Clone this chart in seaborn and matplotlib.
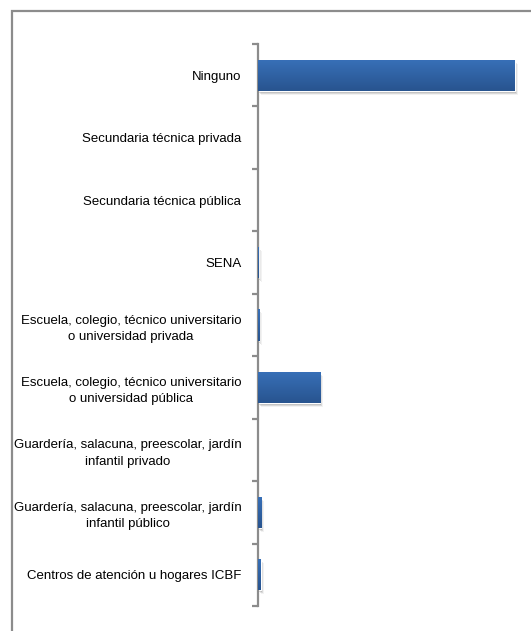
import matplotlib.pyplot as plt
import seaborn as sns
import numpy as np
import pandas as pd
from matplotlib.patches import Rectangle
from matplotlib.colors import LinearSegmentedColormap
import matplotlib.transforms as mtransforms

plt.switch_backend('Agg')

categorias = [
    "Ninguno",
    "Secundaria técnica privada",
    "Secundaria técnica pública",
    "SENA",
    "Escuela, colegio, técnico universitario\no universidad privada",
    "Escuela, colegio, técnico universitario\no universidad pública",
    "Guardería, salacuna, preescolar, jardín\ninfantil privado",
    "Guardería, salacuna, preescolar, jardín\ninfantil público",
    "Centros de atención u hogares ICBF",
]
valores = [78.5, 0.0, 0.0, 0.3, 0.4, 19.0, 0.0, 1.0, 0.8]

df = pd.DataFrame({"categoria": categorias, "valor": valores})

sns.set_style("white")
plt.rcParams['font.family'] = ['Liberation Sans', 'DejaVu Sans']

fig = plt.figure(figsize=(5.31, 6.31), dpi=100)
ax = fig.add_axes([258 / 531, 1 - 606 / 631, 269 / 531, 562 / 631])

sns.barplot(data=df, y="categoria", x="valor", orient="h", color="#2f63a8",
            width=0.5, ax=ax, saturation=1)

# degradado y sombra en las barras
cmap = LinearSegmentedColormap.from_list("azul", ["#3870b8", "#28548f"])
grad = np.linspace(0, 1, 64).reshape(-1, 1)
for p in list(ax.patches):
    x0, y0, w, h = p.get_x(), p.get_y(), p.get_width(), p.get_height()
    if w <= 0:
        continue
    for i, a in enumerate([0.16, 0.10, 0.05]):
        s = Rectangle((x0, y0), w, h, transform=mtransforms.offset_copy(
            ax.transData, fig=fig, x=1 + i, y=-2 - i, units='dots'),
            facecolor="#000000", alpha=a, linewidth=0, zorder=1)
        ax.add_patch(s)
    p.set_zorder(2)
    im = ax.imshow(grad, extent=(x0, x0 + w, y0 + h, y0), cmap=cmap,
                   aspect='auto', zorder=3, origin='upper')
    im.set_clip_path(p)
ax.set_xlim(0, 82.2)
ax.set_ylim(len(categorias) - 0.5, -0.5)

for s in ["top", "right", "bottom"]:
    ax.spines[s].set_visible(False)
ax.spines["left"].set_color("#8c8c8c")
ax.spines["left"].set_linewidth(1.6)

ax.set_xticks([])
ax.set_xlabel("")
ax.set_ylabel("")
ax.set_yticks(range(len(categorias)))
ax.set_yticks(np.arange(-0.5, len(categorias), 1), minor=True)
ax.tick_params(axis="y", which="major", length=0, pad=12, labelsize=9.5,
               labelcolor="#000000")
ax.tick_params(axis="y", which="minor", length=4, width=1.6, color="#8c8c8c",
               direction="out", left=True)
for t in ax.get_yticklabels():
    t.set_multialignment("center")
    t.set_linespacing(1.5)

# marco exterior
fig.add_artist(Rectangle((12 / 531, -0.1), 1.2, (631 - 11) / 631 + 0.1,
                         transform=fig.transFigure, fill=False,
                         edgecolor="#8c8c8c", linewidth=1.6))

fig.savefig("out.png", dpi=100)
